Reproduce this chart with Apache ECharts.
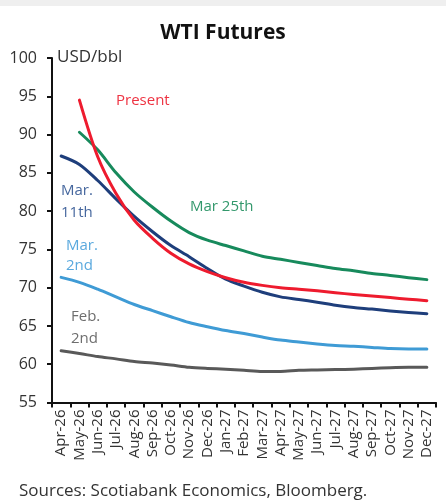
<!DOCTYPE html>
<html>
<head>
<meta charset="utf-8">
<script src="https://cdn.jsdelivr.net/npm/echarts@6/dist/echarts.min.js"></script>
<style>
html,body{margin:0;padding:0;background:#fff;}
#chart{width:446px;height:504px;}
</style>
</head>
<body>
<div id="chart"></div>
<script>
const categories = ['Apr-26','May-26','Jun-26','Jul-26','Aug-26','Sep-26','Oct-26','Nov-26','Dec-26','Jan-27','Feb-27','Mar-27','Apr-27','May-27','Jun-27','Jul-27','Aug-27','Sep-27','Oct-27','Nov-27','Dec-27'];
const present = [null,94.5,87.1,82.3,78.8,76.45,74.5,73.1,72.1,71.3,70.7,70.3,70.0,69.8,69.6,69.35,69.1,68.9,68.7,68.5,68.3];
const mar25 = [null,90.3,88.0,85.0,82.5,80.5,78.7,77.2,76.2,75.5,74.8,74.1,73.7,73.3,72.9,72.5,72.2,71.85,71.6,71.3,71.05];
const mar11 = [87.2,86.1,84.0,81.6,79.3,77.3,75.5,74.05,72.5,71.1,70.2,69.4,68.8,68.45,68.1,67.7,67.4,67.2,66.95,66.75,66.6];
const mar2 = [71.35,70.7,69.8,68.8,67.8,67.0,66.2,65.45,64.9,64.4,64.0,63.55,63.15,62.9,62.65,62.45,62.35,62.2,62.05,62.0,62.0];
const feb2 = [61.75,61.4,61.0,60.7,60.35,60.15,59.9,59.6,59.45,59.35,59.2,59.05,59.05,59.2,59.25,59.3,59.35,59.45,59.55,59.6,59.6];
const yTicks = [55,60,65,70,75,80,85,90,95,100];

const FONT = '"Open Sans", "Noto Sans", sans-serif';
const chart = echarts.init(document.getElementById('chart'), null, {renderer:'canvas'});

function line(name, data, color){
  return {name, type:'line', data, color, smooth:0.3, symbol:'none', connectNulls:false,
    lineStyle:{width:3, color, cap:'round', join:'round'}, emphasis:{disabled:true}, z:3};
}

chart.setOption({
  backgroundColor:'#fff',
  animation:false,
  title:{text:'WTI Futures', left:'center', top:18,
    textStyle:{fontFamily:FONT, fontSize:21, fontWeight:'bold', color:'#111'}},
  grid:{left:52, right:10, top:58, bottom:101.5},
  xAxis:{type:'category', data:categories, boundaryGap:true,
    axisLine:{lineStyle:{color:'#111', width:2}},
    axisTick:{show:true, inside:false, length:5, alignWithLabel:false, lineStyle:{color:'#111', width:2}},
    axisLabel:{rotate:90, interval:0, margin:7, fontFamily:FONT, fontSize:15, color:'#333'},
    splitLine:{show:false}},
  yAxis:{type:'value', min:55, max:100, interval:5,
    axisLine:{show:true, lineStyle:{color:'#111', width:2}},
    axisTick:{show:true, inside:false, length:5, lineStyle:{color:'#111', width:2}},
    axisLabel:{margin:15, fontFamily:FONT, fontSize:16, color:'#333',
      formatter: v => yTicks.includes(v) ? String(v) : ''},
    splitLine:{show:false}},
  series:[
    line('Feb. 2nd', feb2, '#595959'),
    line('Mar. 2nd', mar2, '#3F9BD5'),
    line('Mar. 11th', mar11, '#1E3E7B'),
    line('Mar 25th', mar25, '#178A5C'),
    line('Present', present, '#EE1B2E')
  ],
  graphic:[
    {type:'rect', left:0, top:0, shape:{width:446, height:6}, style:{fill:'#EFEFEF'}, z:0},
    {type:'text', left:2, top:-13, style:{text:'Chart 1', font:'bold 15px '+FONT, fill:'#222'}, z:1},
    {type:'text', left:57, top:49, style:{text:'USD/bbl', font:'17px '+FONT, fill:'#333'}},
    {type:'text', left:116, top:93, style:{text:'Present', font:'15px '+FONT, fill:'#EE3342'}},
    {type:'text', left:190, top:199, style:{text:'Mar 25th', font:'15px '+FONT, fill:'#33986C'}},
    {type:'text', left:61, top:180, style:{text:'Mar.\n11th', font:'15px '+FONT, fill:'#46679E', lineHeight:22}},
    {type:'text', left:66, top:236, style:{text:'Mar.\n2nd', font:'15px '+FONT, fill:'#5AA9DE', lineHeight:20}},
    {type:'text', left:71, top:306, style:{text:'Feb.\n2nd', font:'15px '+FONT, fill:'#6E6E6E', lineHeight:22}},
    {type:'text', left:19, top:483, style:{text:'Sources: Scotiabank Economics, Bloomberg.', font:'17px '+FONT, fill:'#333'}}
  ]
});
</script>
</body>
</html>
